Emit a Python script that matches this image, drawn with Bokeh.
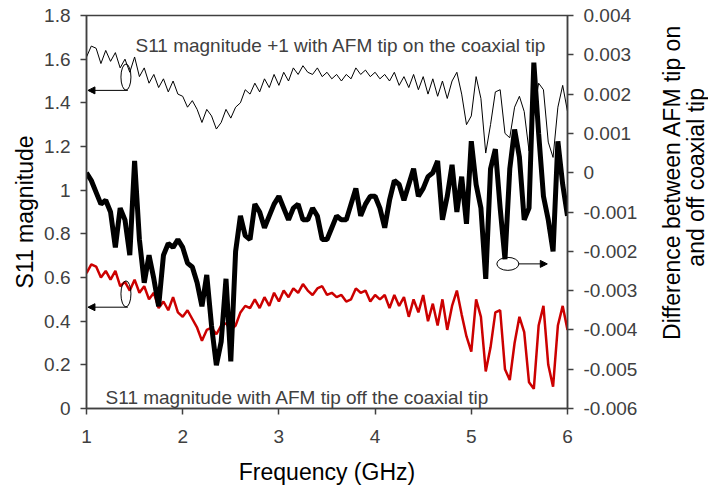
import math
from bokeh.plotting import figure
from bokeh.layouts import row
from bokeh.models import Range1d, LinearAxis, FixedTicker, Label, Arrow, NormalHead
from bokeh.embed import file_html
from bokeh.resources import INLINE

# ---------------- data ----------------
freq_ghz = [
    1.00, 1.05, 1.10, 1.15, 1.20, 1.25, 1.30, 1.35, 1.40, 1.45,
    1.50, 1.55, 1.60, 1.65, 1.70, 1.75, 1.80, 1.85, 1.90, 1.95,
    2.00, 2.05, 2.10, 2.15, 2.20, 2.25, 2.30, 2.35, 2.40, 2.45,
    2.50, 2.55, 2.60, 2.65, 2.70, 2.75, 2.80, 2.85, 2.90, 2.95,
    3.00, 3.05, 3.10, 3.15, 3.20, 3.25, 3.30, 3.35, 3.40, 3.45,
    3.50, 3.55, 3.60, 3.65, 3.70, 3.75, 3.80, 3.85, 3.90, 3.95,
    4.00, 4.05, 4.10, 4.15, 4.20, 4.25, 4.30, 4.35, 4.40, 4.45,
    4.50, 4.55, 4.60, 4.65, 4.70, 4.75, 4.80, 4.85, 4.90, 4.95,
    5.00, 5.05, 5.10, 5.15, 5.20, 5.25, 5.30, 5.35, 5.40, 5.45,
    5.50, 5.55, 5.60, 5.65, 5.70, 5.75, 5.80, 5.85, 5.90, 5.95,
    6.00,
]

# S11 magnitude + 1, AFM tip on the coaxial tip (thin black, left axis)
s11_on_plus1 = [
    1.61, 1.66, 1.65, 1.58, 1.64, 1.59, 1.63, 1.56, 1.60, 1.54,
    1.61, 1.52, 1.56, 1.49, 1.53, 1.47, 1.51, 1.45, 1.50, 1.44,
    1.43, 1.38, 1.41, 1.37, 1.31, 1.37, 1.34, 1.28, 1.31, 1.37,
    1.33, 1.38, 1.40, 1.46, 1.44, 1.49, 1.45, 1.51, 1.47, 1.53,
    1.48, 1.54, 1.50, 1.56, 1.53, 1.57, 1.54, 1.53, 1.56, 1.52,
    1.54, 1.51, 1.53, 1.50, 1.53, 1.51, 1.56, 1.53, 1.55, 1.52,
    1.54, 1.51, 1.53, 1.50, 1.54, 1.48, 1.52, 1.47, 1.53, 1.46,
    1.52, 1.44, 1.51, 1.43, 1.50, 1.42, 1.50, 1.54, 1.44, 1.30,
    1.34, 1.52, 1.42, 1.17, 1.30, 1.45, 1.46, 1.26, 1.24, 1.38,
    1.43, 1.36, 1.18, 1.35, 1.49, 1.46, 1.22, 1.15, 1.38, 1.48,
    1.36,
]

# S11 magnitude, AFM tip off the coaxial tip (red, left axis)
s11_off = [
    0.62, 0.66, 0.65, 0.60, 0.63, 0.59, 0.63, 0.56, 0.58, 0.54,
    0.59, 0.53, 0.56, 0.50, 0.53, 0.46, 0.49, 0.45, 0.51, 0.44,
    0.42, 0.45, 0.41, 0.37, 0.31, 0.36, 0.37, 0.34, 0.38, 0.39,
    0.36, 0.38, 0.44, 0.47, 0.46, 0.50, 0.46, 0.51, 0.47, 0.53,
    0.49, 0.54, 0.51, 0.55, 0.53, 0.57, 0.54, 0.52, 0.55, 0.56,
    0.52, 0.53, 0.51, 0.52, 0.49, 0.50, 0.55, 0.53, 0.54, 0.49,
    0.52, 0.50, 0.52, 0.46, 0.52, 0.47, 0.51, 0.42, 0.50, 0.44,
    0.52, 0.40, 0.48, 0.38, 0.50, 0.36, 0.47, 0.54, 0.43, 0.33,
    0.26, 0.50, 0.42, 0.17, 0.28, 0.44, 0.45, 0.18, 0.13, 0.30,
    0.42, 0.35, 0.12, 0.09, 0.38, 0.47, 0.20, 0.10, 0.38, 0.47,
    0.36,
]

# Difference between AFM tip on and off (thick black, right axis)
diff_on_off = [
    0.0000, -0.0002, -0.0005, -0.0008, -0.0007, -0.0010, -0.0019, -0.0009, -0.0012, -0.0021,
    0.0003, -0.0017, -0.0028, -0.0021, -0.0027, -0.0034, -0.0021, -0.0018, -0.0019, -0.0017,
    -0.0019, -0.0023, -0.0024, -0.0028, -0.0034, -0.0026, -0.0039, -0.0049, -0.0043, -0.0027,
    -0.0048, -0.0020, -0.0011, -0.0016, -0.0017, -0.0008, -0.0010, -0.0014, -0.0011, -0.0008,
    -0.0006, -0.0009, -0.0012, -0.0009, -0.0008, -0.0012, -0.0012, -0.0009, -0.0011, -0.0017,
    -0.0017, -0.0014, -0.0011, -0.0012, -0.0012, -0.0008, -0.0004, -0.0011, -0.0008, -0.0006,
    -0.0006, -0.0009, -0.0014, -0.0007, -0.0002, -0.0003, -0.0007, -0.0003, 0.0001, -0.0006,
    -0.0004, -0.0001, 0.0000, 0.0003, -0.0012, -0.0006, 0.0002, -0.0010, -0.0001, -0.0013,
    0.0008, -0.0003, -0.0009, -0.0027, 0.0001, 0.0006, -0.0009, -0.0022, 0.0001, 0.0011,
    0.0004, -0.0012, -0.0009, 0.0028, 0.0010, -0.0006, -0.0012, -0.0020, 0.0008, -0.0003,
    -0.0011,
]

x_ticks = [1, 2, 3, 4, 5, 6]
left_ticks = [0, 0.2, 0.4, 0.6, 0.8, 1.0, 1.2, 1.4, 1.6, 1.8]
left_tick_labels = ["0", "0.2", "0.4", "0.6", "0.8", "1", "1.2", "1.4", "1.6", "1.8"]
right_ticks = [-0.006, -0.005, -0.004, -0.003, -0.002, -0.001, 0, 0.001, 0.002, 0.003, 0.004]
right_tick_labels = ["-0.006", "-0.005", "-0.004", "-0.003", "-0.002", "-0.001",
                     "0", "0.001", "0.002", "0.003", "0.004"]

label_on = "S11 magnitude +1 with AFM tip on the coaxial tip"
label_off = "S11 magnitude  with AFM tip off the coaxial tip"
x_title = "Frequency (GHz)"
y_title = "S11 magnitude"
y2_title_lines = ["Difference between AFM tip on", "and off coaxial tip"]

# annotation anchors (ellipse centre, arrow start -> end)
on_marker = dict(x=1.41, y=1.518, ax0=1.43, ax1=1.015, ay=1.457)
off_marker = dict(x=1.41, y=0.525, ax0=1.43, ax1=1.015, ay=0.464)
diff_marker = dict(x=5.38, y=-0.00232, ax0=5.49, ax1=5.79, ay=-0.00232)

FONT = "Liberation Sans"
GREY = "#404040"
W_MAIN, W_TITLE, H = 650, 58, 488

# ---------------- main figure ----------------
p = figure(width=W_MAIN, height=H,
           x_range=Range1d(1, 6), y_range=Range1d(0, 1.8),
           output_backend="svg", toolbar_location=None,
           min_border_left=86, min_border_right=W_MAIN - 567,
           min_border_top=15, min_border_bottom=H - 408)
p.extra_y_ranges = {"diff": Range1d(-0.006, 0.004)}
p.xgrid.visible = False
p.ygrid.visible = False
p.outline_line_color = GREY
p.outline_line_width = 1.5


def style_axis(ax, ticks, title, labels=None):
    ax.ticker = FixedTicker(ticks=ticks)
    ax.minor_tick_line_color = None
    ax.major_tick_in = 0
    ax.major_tick_out = 6
    ax.axis_line_color = GREY
    ax.axis_line_width = 1.5
    ax.major_tick_line_color = GREY
    ax.major_tick_line_width = 1.5
    ax.major_label_text_font = FONT
    ax.major_label_text_font_size = "19px"
    ax.major_label_text_color = GREY
    ax.axis_label = title
    ax.axis_label_text_font = FONT
    ax.axis_label_text_font_size = "23px"
    ax.axis_label_text_font_style = "normal"
    ax.axis_label_text_color = "black"
    if labels is not None:
        ax.major_label_overrides = {t: l for t, l in zip(ticks, labels)}


style_axis(p.xaxis[0], x_ticks, x_title)
p.xaxis[0].major_label_standoff = 15
p.xaxis[0].axis_label_standoff = 13
style_axis(p.yaxis[0], left_ticks, y_title, left_tick_labels)
p.yaxis[0].major_label_standoff = 10
p.yaxis[0].axis_label_standoff = 3

right_axis = LinearAxis(y_range_name="diff")
style_axis(right_axis, right_ticks, None, right_tick_labels)
right_axis.major_label_standoff = 10
p.add_layout(right_axis, "right")

# ---------------- curves ----------------
p.line(freq_ghz, s11_off, line_color="#cc0000", line_width=2.5)
p.line(freq_ghz, s11_on_plus1, line_color="black", line_width=1)
p.line(freq_ghz, diff_on_off, line_color="black", line_width=5, y_range_name="diff")

# ---------------- markers: ellipses + arrows ----------------
for m in (on_marker, off_marker):
    p.ellipse(x=[m["x"]], y=[m["y"]], width=10, height=26,
              width_units="screen", height_units="screen",
              fill_color=None, line_color="black", line_width=1)
    p.add_layout(Arrow(x_start=m["ax0"], y_start=m["ay"], x_end=m["ax1"], y_end=m["ay"],
                       line_width=1, line_color="black",
                       end=NormalHead(size=7, fill_color="black", line_color="black")))

p.ellipse(x=[diff_marker["x"]], y=[diff_marker["y"]], width=22, height=13,
          width_units="screen", height_units="screen",
          fill_color=None, line_color="black", line_width=1, y_range_name="diff")
p.add_layout(Arrow(x_start=diff_marker["ax0"], y_start=diff_marker["ay"],
                   x_end=diff_marker["ax1"], y_end=diff_marker["ay"],
                   line_width=1, line_color="black", y_range_name="diff",
                   end=NormalHead(size=7, fill_color="black", line_color="black")))

# ---------------- text labels ----------------
p.add_layout(Label(x=1.509, y=1.663, text=label_on, text_font=FONT,
                   text_font_size="19px", text_color=GREY, text_baseline="alphabetic"))
p.add_layout(Label(x=1.198, y=0.049, text=label_off, text_font=FONT,
                   text_font_size="19px", text_color=GREY, text_baseline="alphabetic"))

# ---------------- right-hand title panel (text reads bottom to top) ----------------
pt = figure(width=W_TITLE, height=H, x_range=Range1d(W_MAIN, W_MAIN + W_TITLE),
            y_range=Range1d(H, 0), output_backend="svg", toolbar_location=None,
            min_border=0, x_axis_type=None, y_axis_type=None)
pt.xgrid.visible = False
pt.ygrid.visible = False
pt.outline_line_color = None
for xpos, ypos, line in zip((671, 695), (207, 201), y2_title_lines):
    pt.add_layout(Label(x=xpos, y=ypos, text=line, text_font=FONT,
                        text_font_size="23px", text_color="black", angle=math.pi / 2,
                        text_align="center", text_baseline="middle"))

layout = row(p, pt, spacing=0)
open("out.html", "w").write(file_html(layout, INLINE))
